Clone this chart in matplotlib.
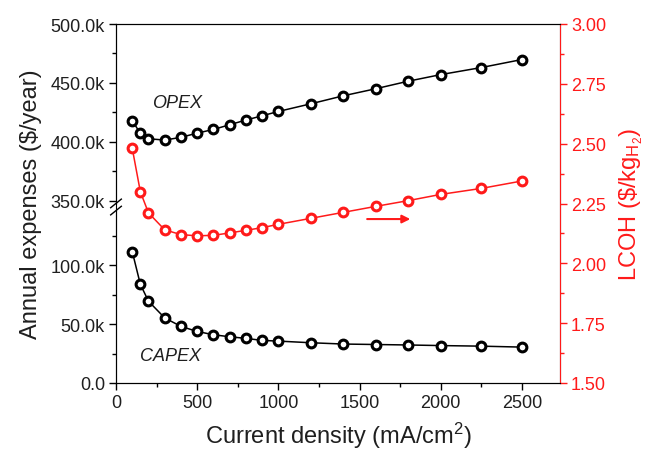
import numpy as np
import matplotlib
matplotlib.use("Agg")
import matplotlib.pyplot as plt
from matplotlib.ticker import FixedLocator, FuncFormatter

plt.rcParams['font.family'] = ['Liberation Sans', 'DejaVu Sans']
plt.rcParams['mathtext.fontset'] = 'custom'
plt.rcParams['mathtext.rm'] = 'Liberation Sans'
plt.rcParams['mathtext.it'] = 'Liberation Sans:italic'

current_density = [100, 150, 200, 300, 400, 500, 600, 700, 800, 900, 1000,
                   1200, 1400, 1600, 1800, 2000, 2250, 2500]
opex_k = [418.0, 407.0, 402.5, 401.4, 403.7, 407.3, 410.4, 414.4, 418.4, 422.0,
          425.7, 432.2, 439.0, 445.0, 451.4, 457.0, 463.0, 469.8]
capex_k = [111.7, 83.8, 69.5, 55.3, 48.1, 43.8, 41.0, 39.3, 37.9, 36.2, 35.6,
           34.2, 33.1, 32.7, 32.3, 31.8, 31.3, 30.5]
lcoh = [2.481, 2.299, 2.211, 2.140, 2.120, 2.115, 2.117, 2.127, 2.138, 2.149,
        2.163, 2.188, 2.213, 2.238, 2.262, 2.288, 2.313, 2.344]

left_major = [0, 50, 100, 350, 400, 450, 500]
left_minor = [25, 75, 125, 375, 425, 475]
right_major = [1.50, 1.75, 2.00, 2.25, 2.50, 2.75, 3.00]
x_major = [0, 500, 1000, 1500, 2000, 2500]

BREAK_LO, BREAK_HI = 150.0, 345.0
GAP = BREAK_HI - BREAK_LO

def fwd(y):
    y = np.asarray(y, dtype=float)
    return np.where(y <= BREAK_LO, y, np.where(y >= BREAK_HI, y - GAP, BREAK_LO))

def inv(t):
    t = np.asarray(t, dtype=float)
    return np.where(t <= BREAK_LO, t, t + GAP)

RED = '#ff1a1a'
TXT = '#1f1f1f'

fig = plt.figure(figsize=(6.48, 4.52), dpi=100)
ax = fig.add_axes([116/648, 68/452, 444/648, 359/452])
ax.set_yscale('function', functions=(fwd, inv))

mk = dict(marker='o', markersize=6.3, markerfacecolor='white', markeredgewidth=2.2)
ax.plot(current_density, opex_k, color='black', lw=1.1, **mk, zorder=3)
ax.plot(current_density, capex_k, color='black', lw=1.1, **mk, zorder=3)

ax.set_xlim(0, 2735)
ax.set_ylim(0, 500)
ax.yaxis.set_major_locator(FixedLocator(left_major))
ax.yaxis.set_minor_locator(FixedLocator(left_minor))
ax.yaxis.set_major_formatter(FuncFormatter(lambda v, p: '0.0' if v == 0 else f'{v:.1f}k'))
ax.xaxis.set_major_locator(FixedLocator(x_major))
ax.xaxis.set_minor_locator(FixedLocator([250, 750, 1250, 1750, 2250]))

ax.tick_params(axis='both', which='major', direction='out', length=5, width=1,
               labelsize=13, labelcolor=TXT, pad=3)
ax.tick_params(axis='both', which='minor', direction='out', length=3, width=1)
ax.tick_params(axis='x', top=False)
ax.set_xlabel('Current density (mA/cm$^2$)', fontsize=17, color=TXT, labelpad=6)
ax.set_ylabel('Annual expenses ($/year)', fontsize=17, color=TXT, labelpad=6)

ax.text(222, 433, 'OPEX', fontsize=13, style='italic', color=TXT, va='center')
ax.text(150, 23, 'CAPEX', fontsize=13, style='italic', color=TXT, va='center')

ax2 = ax.twinx()
ax2.plot(current_density, lcoh, color=RED, lw=1.1, marker='o', markersize=6.3,
         markerfacecolor='white', markeredgecolor=RED, markeredgewidth=2.2, zorder=3)
ax2.set_ylim(1.5, 3.0)
ax2.yaxis.set_major_locator(FixedLocator(right_major))
ax2.yaxis.set_minor_locator(FixedLocator(np.arange(1.625, 3.0, 0.25)))
ax2.yaxis.set_major_formatter(FuncFormatter(lambda v, p: f'{v:.2f}'))
ax2.tick_params(axis='y', which='major', direction='out', length=5, width=1,
                labelsize=13, colors=RED, pad=3)
ax2.tick_params(axis='y', which='minor', direction='out', length=3, width=1, colors=RED)
ax2.spines['right'].set_color(RED)
ax2.set_ylabel('LCOH (\\$/kg$_{\\mathrm{H_2}}$)', fontsize=17, color=RED, labelpad=8)

ax2.annotate('', xy=(1830, 2.185), xytext=(1530, 2.185),
             arrowprops=dict(arrowstyle='-|>', color=RED, lw=1.5, mutation_scale=12))

# axis break marks on the left spine
yb = (384 - 208) / 359.0
dx, dy, off = 0.012, 0.012, 0.010
ax.plot([-0.004, 0.004], [yb - 0.006, yb + 0.006], transform=ax.transAxes,
        color='white', lw=5, clip_on=False, zorder=10, solid_capstyle='butt')
for o in (-off, off):
    ax.plot([-dx, dx], [yb + o - dy, yb + o + dy], transform=ax.transAxes,
            color='black', lw=1, clip_on=False, zorder=11)

fig.savefig('out.png', dpi=100)
